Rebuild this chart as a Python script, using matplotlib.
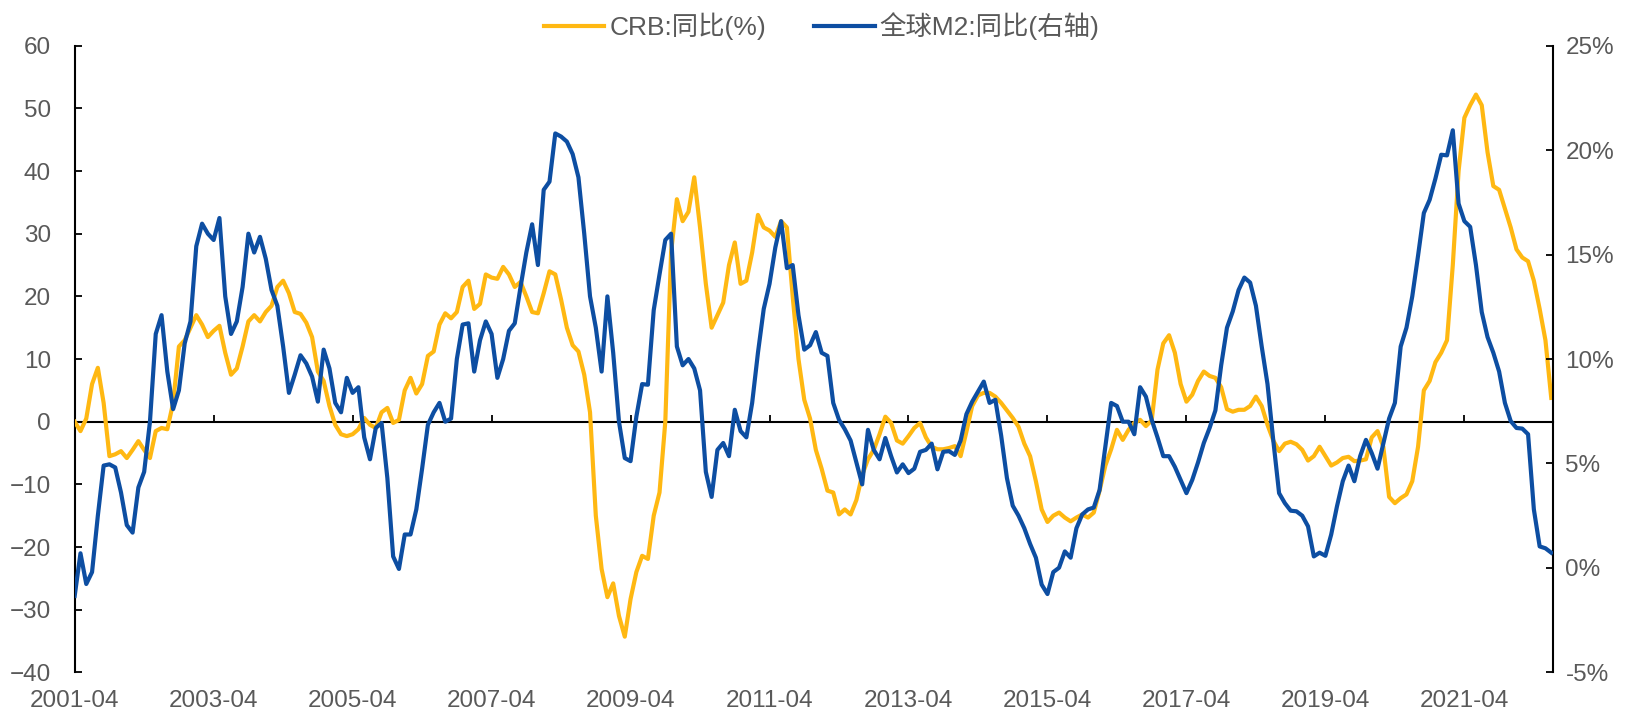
import matplotlib
matplotlib.use("Agg")
import matplotlib.pyplot as plt
import numpy as np

# monthly data, 2001-04 .. 2022-07
start_year, start_month = 2001, 4

crb = [0, -1.5, 0.5, 6, 8.6, 3, -5.5, -5.2, -4.7, -5.8,
       -4.5, -3.1, -4.5, -5.8, -1.5, -1, -1.2, 3, 12, 13,
       15, 17, 15.5, 13.5, 14.5, 15.3, 11, 7.5, 8.5, 12,
       16, 17, 16, 17.5, 18.5, 21.5, 22.5, 20.5, 17.5, 17.2,
       15.8, 13.5, 8, 6.5, 2.5, -0.5, -2, -2.3, -2, -1.2,
       0.6, -0.5, -1, 1.5, 2.2, -0.2, 0.3, 5, 7, 4.5,
       6, 10.5, 11.2, 15.5, 17.3, 16.5, 17.5, 21.5, 22.5, 18,
       18.8, 23.5, 23, 22.8, 24.7, 23.5, 21.5, 22.3, 20, 17.5,
       17.3, 20.5, 24, 23.5, 19.5, 15, 12.2, 11.2, 7.5, 1.5,
       -15, -23.5, -28, -25.8, -31, -34.3, -28.3, -24, -21.4, -21.9,
       -15, -11.3, 0, 27, 35.5, 32, 33.5, 39, 31, 22,
       15, 17, 19, 25, 28.6, 22, 22.5, 27, 33, 31,
       30.5, 29.5, 32, 31, 20, 10, 3.5, 0.5, -4.5, -7.5,
       -11, -11.3, -14.8, -14, -14.8, -12.5, -8.5, -6, -4.5, -2,
       0.8, -0.2, -3, -3.5, -2.3, -1, -0.2, -2.5, -4, -4.4,
       -4.4, -4.2, -3.9, -5.5, -1.6, 2.5, 4.2, 4.6, 4.6, 4,
       3, 1.8, 0.6, -0.8, -3.5, -5.5, -9.5, -14, -16, -15,
       -14.5, -15.3, -15.9, -15.3, -14.8, -15.3, -14.5, -11, -7, -4.4,
       -1.3, -2.9, -1.3, -0.2, 0.3, -0.7, 0.2, 8.3, 12.5, 13.8,
       11, 6, 3.2, 4.3, 6.5, 8, 7.3, 7, 5.5, 2,
       1.6, 1.9, 1.9, 2.5, 4, 2.5, -0.5, -3, -4.7, -3.5,
       -3.2, -3.6, -4.5, -6.2, -5.5, -4, -5.5, -7, -6.5, -5.8,
       -5.6, -6.3, -6.2, -6, -2.5, -1.5, -4, -12, -13, -12.2,
       -11.6, -9.5, -4, 5, 6.5, 9.5, 11, 13, 25, 40,
       48.5, 50.5, 52.2, 50.5, 43, 37.6, 37, 34, 31, 27.5,
       26.2, 25.6, 22.5, 18, 13, 3.8]

m2 = [-1.34, 0.70, -0.77, -0.20, 2.50, 4.90, 4.96, 4.81, 3.61, 2.05,
      1.69, 3.85, 4.60, 7.00, 11.20, 12.10, 9.40, 7.60, 8.50, 10.75,
      11.80, 15.40, 16.48, 16.00, 15.70, 16.75, 13.00, 11.20, 11.80, 13.45,
      16.00, 15.10, 15.85, 14.80, 13.30, 12.55, 10.60, 8.38, 9.25, 10.18,
      9.79, 9.16, 7.96, 10.45, 9.55, 7.90, 7.45, 9.10, 8.38, 8.65,
      6.25, 5.20, 6.70, 6.94, 4.30, 0.55, -0.05, 1.60, 1.60, 2.80,
      4.75, 6.85, 7.45, 7.90, 7.00, 7.15, 10.00, 11.65, 11.71, 9.40,
      10.90, 11.80, 11.20, 9.10, 10.00, 11.35, 11.71, 13.45, 15.10, 16.45,
      14.50, 18.10, 18.49, 20.80, 20.65, 20.41, 19.81, 18.70, 16.00, 13.00,
      11.50, 9.40, 13.00, 10.30, 7.00, 5.26, 5.11, 7.24, 8.80, 8.77,
      12.34, 14.05, 15.70, 16.00, 10.60, 9.70, 10.00, 9.55, 8.50, 4.60,
      3.40, 5.65, 5.98, 5.35, 7.57, 6.55, 6.25, 7.90, 10.30, 12.40,
      13.60, 15.34, 16.60, 14.35, 14.50, 12.10, 10.45, 10.66, 11.29, 10.30,
      10.15, 7.90, 7.09, 6.64, 6.10, 5.05, 4.00, 6.61, 5.65, 5.20,
      6.22, 5.35, 4.57, 4.96, 4.54, 4.75, 5.56, 5.65, 5.95, 4.72,
      5.56, 5.59, 5.41, 6.10, 7.36, 7.96, 8.44, 8.92, 7.90, 8.05,
      6.34, 4.30, 2.98, 2.50, 1.90, 1.15, 0.49, -0.80, -1.25, -0.20,
      0.01, 0.79, 0.49, 1.90, 2.56, 2.80, 2.89, 3.73, 5.80, 7.90,
      7.75, 7.00, 7.00, 6.40, 8.65, 8.20, 7.09, 6.25, 5.35, 5.35,
      4.84, 4.21, 3.58, 4.21, 5.05, 5.98, 6.70, 7.54, 9.70, 11.50,
      12.28, 13.30, 13.90, 13.66, 12.55, 10.60, 8.80, 6.10, 3.58, 3.10,
      2.74, 2.71, 2.50, 1.99, 0.55, 0.73, 0.58, 1.60, 2.95, 4.15,
      4.90, 4.15, 5.35, 6.13, 5.50, 4.75, 5.95, 7.15, 7.90, 10.60,
      11.50, 13.00, 14.95, 16.99, 17.62, 18.64, 19.78, 19.75, 20.95, 17.44,
      16.60, 16.33, 14.50, 12.25, 11.05, 10.30, 9.40, 7.90, 7.03, 6.70,
      6.67, 6.40, 2.80, 1.03, 0.94, 0.73]

tick_labels = ["2001-04", "2003-04", "2005-04", "2007-04", "2009-04", "2011-04",
               "2013-04", "2015-04", "2017-04", "2019-04", "2021-04"]

orange = "#FFB812"
blue = "#0D4EA2"
gray = "#595959"

plt.rcParams['font.family'] = ['Liberation Sans', 'Noto Sans CJK SC', 'DejaVu Sans']

x = np.arange(len(crb))

fig = plt.figure(figsize=(16.27, 7.14), dpi=100)
ax = fig.add_axes([0.0459, 0.0583, 0.9086, 0.8777])
ax2 = ax.twinx()

l1, = ax.plot(x, crb, color=orange, lw=3, label="CRB:同比(%)", zorder=3,
              solid_joinstyle='round')
l2, = ax2.plot(x, m2, color=blue, lw=3, label="全球M2:同比(右轴)", zorder=3,
               solid_joinstyle='round')

ax.set_xlim(0, len(crb) - 0.7)
ax.set_ylim(-40, 60)
ax.set_yticks(range(-40, 61, 10))
ax2.set_ylim(-5, 25)
ax2.set_yticks(range(-5, 26, 5))
ax2.set_yticklabels([f"{v}%" for v in range(-5, 26, 5)])

# x axis sits on the zero line, labels at the bottom
ax.spines['bottom'].set_position(('data', 0))
ax.spines['bottom'].set_linewidth(1.5)
ax.spines['top'].set_visible(False)
ax.spines['right'].set_visible(False)
ax.spines['left'].set_linewidth(1.5)
for s in ['top', 'left', 'bottom']:
    ax2.spines[s].set_visible(False)
ax2.spines['right'].set_linewidth(1.5)

xt = np.arange(0, len(crb), 24)
ax.set_xticks(xt)
ax.tick_params(axis='x', direction='in', length=5, width=1.3, labelbottom=False)
ax.tick_params(axis='y', direction='in', length=5, width=1.3, labelsize=17.5,
               labelcolor=gray, pad=17)
ax2.tick_params(axis='y', direction='in', length=5, width=1.3, labelsize=17.5,
                labelcolor=gray, pad=9)

sec = ax.secondary_xaxis('bottom')
sec.set_xticks(xt)
sec.set_xticklabels(tick_labels)
sec.spines['bottom'].set_visible(False)
sec.tick_params(length=0, labelsize=17.5, labelcolor=gray, pad=13)

fig.legend([l1, l2], [l1.get_label(), l2.get_label()], loc='center',
           bbox_to_anchor=(0.505, 0.963), ncol=2, frameon=False,
           fontsize=19, labelcolor=gray, handlelength=2.3,
           handletextpad=0.2, columnspacing=1.8)

fig.savefig("out.png", dpi=100)
